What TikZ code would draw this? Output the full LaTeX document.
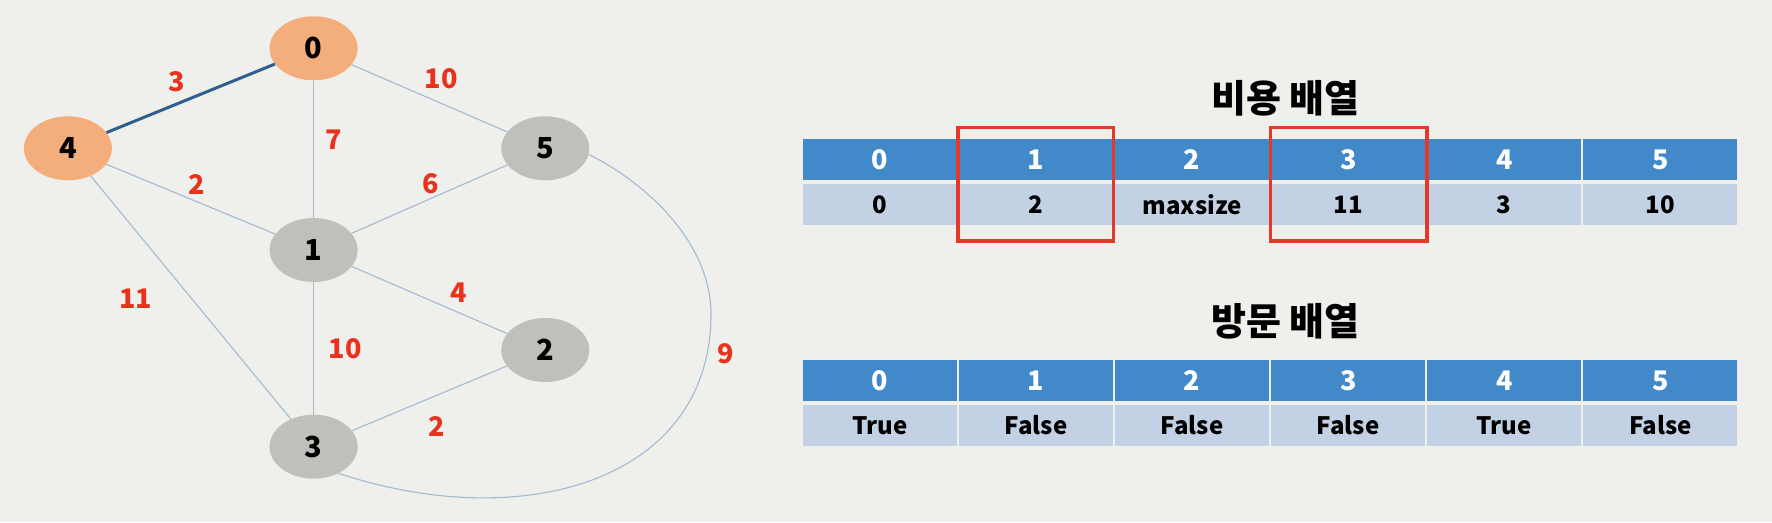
\documentclass[tikz,border=0pt]{standalone}
\usepackage{fontspec}
\setmainfont{Noto Sans CJK KR}
\usetikzlibrary{shapes.geometric}
\definecolor{bgc}{HTML}{EFEFEC}
\definecolor{orangec}{HTML}{F4AE7C}
\definecolor{grayc}{HTML}{BFBFBB}
\definecolor{edgec}{HTML}{A3BBD0}
\definecolor{thickc}{HTML}{2F5F8F}
\definecolor{redc}{HTML}{E8321E}
\definecolor{headc}{HTML}{4189C8}
\definecolor{datac}{HTML}{C3D1E4}
\definecolor{boxc}{HTML}{E3392A}
\tikzset{
  vert/.style={ellipse, minimum width=88pt, minimum height=64pt, inner sep=0pt, font=\fontsize{29}{29}\selectfont\bfseries},
  vorange/.style={vert, fill=orangec},
  vgray/.style={vert, fill=grayc},
  edgeline/.style={draw=edgec, line width=1.1pt},
  thickline/.style={draw=thickc, line width=3pt},
  wlabel/.style={text=redc, font=\fontsize{27}{27}\selectfont\bfseries, inner sep=0pt},
  headcell/.style={fill=headc, text=white, minimum width=154pt, minimum height=40.7pt, inner sep=0pt, font=\fontsize{27}{27}\selectfont\bfseries},
  datacell/.style={fill=datac, text=black, minimum width=154pt, minimum height=40.5pt, inner sep=0pt, font=\fontsize{24}{24}\selectfont\bfseries},
  titletext/.style={font=\fontsize{38}{38}\selectfont\bfseries, inner sep=0pt},
  redbox/.style={draw=boxc, line width=3.5pt}
}
\begin{document}
\begin{tikzpicture}[x=1pt,y=-1pt]
\fill[bgc] (0,0) rectangle (1772,522);
\useasboundingbox (0,0) rectangle (1772,522);
% vertex positions
\coordinate (p0) at (313.6,48.3);
\coordinate (p4) at (67.9,148.3);
\coordinate (p5) at (545.3,148.3);
\coordinate (p1) at (313.6,250);
\coordinate (p2) at (545.3,350);
\coordinate (p3) at (313.6,446.7);
% vertices
\node[vorange] (n0) at (p0) {0};
\node[vorange] (n4) at (p4) {4};
\node[vgray] (n5) at (p5) {5};
\node[vgray] (n1) at (p1) {1};
\node[vgray] (n2) at (p2) {2};
\node[vgray] (n3) at (p3) {3};
% edges
\draw[thickline] (n0) -- (n4);
\draw[edgeline] (n0) -- (n5);
\draw[edgeline] (n0) -- (n1);
\draw[edgeline] (n4) -- (n1);
\draw[edgeline] (n4) -- (n3);
\draw[edgeline] (n5) -- (n1);
\draw[edgeline] (n1) -- (n2);
\draw[edgeline] (n1) -- (n3);
\draw[edgeline] (n2) -- (n3);
\coordinate (m) at (711,314);
\draw[edgeline] (n5.-8) .. controls (650,185) and (711,245) .. (m)
  .. controls (711,480) and (525,535) .. (n3.-47);
% weights
\node[wlabel] (w04) at (177,81.7) {3};
\node[wlabel] (w05) at (441,78.3) {10};
\node[wlabel] (w01) at (333.5,140) {7};
\node[wlabel] (w41) at (196.3,184.3) {2};
\node[wlabel] (w51) at (430.4,183.3) {6};
\node[wlabel] (w43) at (135.7,298.3) {11};
\node[wlabel] (w12) at (459,292.7) {4};
\node[wlabel] (w13) at (345,348.3) {10};
\node[wlabel] (w53) at (725.6,354) {9};
\node[wlabel] (w23) at (437,426.7) {2};
% titles
\node[titletext] (t1) at (1285.5,98) {비용 배열};
\node[titletext] (t2) at (1285.5,321.7) {방문 배열};
% table 1
\foreach \i/\v in {0/0,1/2,2/maxsize,3/11,4/3,5/10}{
  \node[headcell] (ha\i) at ({880.1+156.04*\i},159.6) {\i};
  \node[datacell] (da\i) at ({880.1+156.04*\i},204.3) {\v};
}
% table 2
\foreach \i/\v in {0/True,1/False,2/False,3/False,4/True,5/False}{
  \node[headcell] (hb\i) at ({880.1+156.04*\i},380.5) {\i};
  \node[datacell] (db\i) at ({880.1+156.04*\i},425.3) {\v};
}
% red boxes
\draw[redbox] (957.8,127.7) rectangle (1113.7,241);
\draw[redbox] (1270.3,127.7) rectangle (1426.8,241);
\end{tikzpicture}
\end{document}
